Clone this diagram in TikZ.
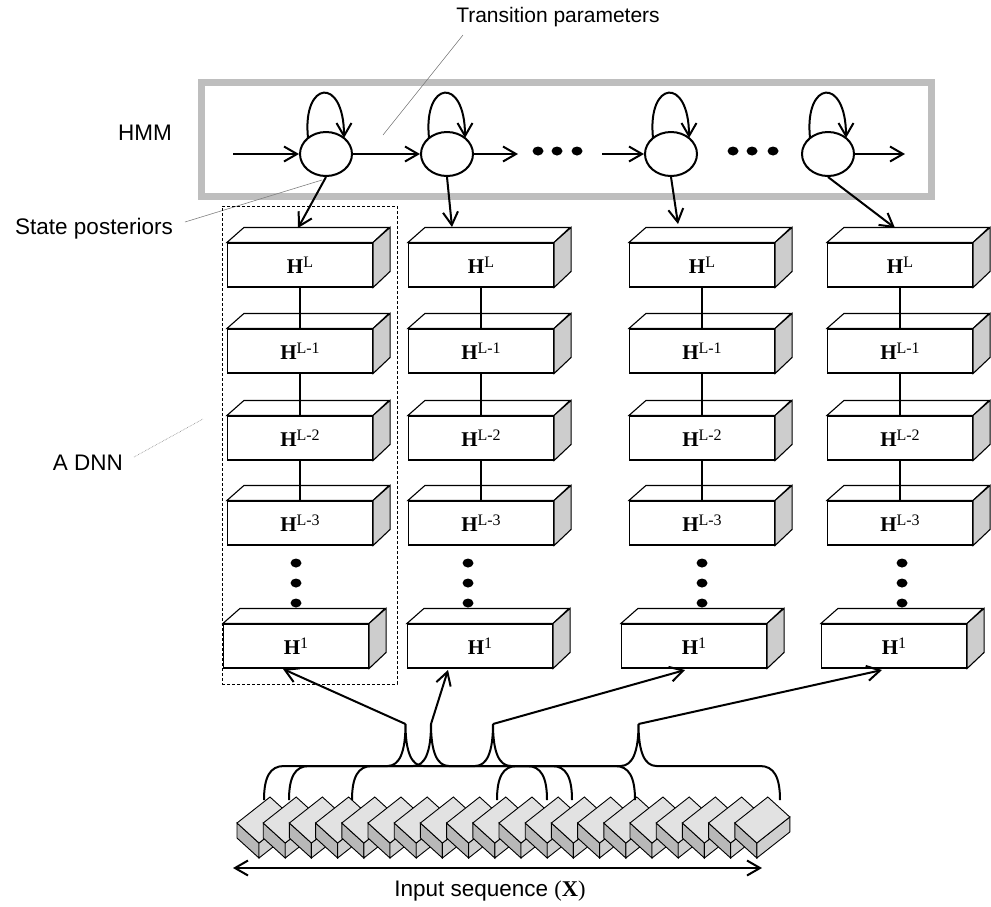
\documentclass[tikz,border=0pt]{standalone}
\usepackage{fontspec}
\setmainfont{Liberation Serif}
\setsansfont{Liberation Sans}
\usetikzlibrary{arrows.meta,shapes.geometric,calc}
\definecolor{framegray}{HTML}{BEBEBE}
\definecolor{sidegray}{HTML}{CDCDCD}
\definecolor{topgray}{HTML}{E2E2E2}
\definecolor{leftgray}{HTML}{B8B8B8}
\definecolor{rightgray}{HTML}{CFCFCF}
\newcommand\Hlab[1]{\textbf{H}\raisebox{6pt}{\fontsize{16}{16}\selectfont #1}}
\newcommand\cub[1]{%
  \draw[edge, fill=white] (#1.north west) -- ++(17,-15) -- ++(145,0) -- (#1.north east) -- cycle;
  \draw[edge, fill=sidegray] (#1.north east) -- ++(17,-15) -- ++(0,44) -- (#1.south east) -- cycle;}
\newcommand\brc[3]{%
  \draw[brace] (#1,800) .. controls (#1,777) and (#1+6,766) .. (#1+20,766) -- (#2-18,766)
    .. controls (#2-6,766) and (#2,752) .. (#2,724)
    .. controls (#2,752) and (#2+6,766) .. (#2+18,766) -- (#3-20,766)
    .. controls (#3-6,766) and (#3,777) .. (#3,800);}
\begin{document}
\begin{tikzpicture}[x=1pt,y=-1pt,
  arr/.style={line width=2pt,-{Straight Barb[length=13pt,width=15pt]}},
  darr/.style={line width=2pt,{Straight Barb[length=13pt,width=15pt]}-{Straight Barb[length=13pt,width=15pt]}},
  link/.style={line width=2pt},
  brace/.style={line width=2pt},
  edge/.style={line width=1.1pt, line join=miter},
  layer/.style={draw, line width=1.1pt, fill=white, minimum width=145pt, minimum height=44pt, inner sep=0pt, font=\fontsize{21}{24}\selectfont},
  hstate/.style={ellipse, draw, line width=2pt, fill=white, minimum width=52pt, minimum height=44pt, inner sep=0pt},
  blob/.style={ellipse, fill=black, inner sep=0pt, minimum width=11pt, minimum height=9pt},
  leader/.style={line width=0.6pt, draw=gray},
  lab/.style={font=\sffamily\fontsize{22.5}{26}\selectfont, inner sep=0pt}
]
\useasboundingbox (0,0) rectangle (991,906);

% labels
\node[lab, font=\sffamily\fontsize{21}{25}\selectfont] (ttp) at (558,17) {Transition parameters};
\node[lab] (thmm) at (145,133) {HMM};
\node[lab] (tsp) at (94,229) {State posteriors};
\node[lab] (tdnn) at (88,463) {A DNN};
\node[lab] (tin) at (490,891) {Input sequence {\rmfamily(\textbf{X})}};

% HMM frame
\node[draw=framegray, line width=7pt, minimum width=730pt, minimum height=114pt, inner sep=0pt] (hmm) at (566.5,139.5) {};

% leaders
\coordinate (lt1) at (463,35); \coordinate (lt2) at (383,135);
\draw[leader] (lt1) -- (lt2);
\coordinate (ls1) at (185,222); \coordinate (ls2) at (322,180);
\draw[leader] (ls1) -- (ls2);
\coordinate (ld1) at (134,457); \coordinate (ld2) at (203,419);
\draw[leader, densely dotted] (ld1) -- (ld2);

% dashed DNN box
\node[draw, line width=0.8pt, dash pattern=on 3pt off 2pt, minimum width=175pt, minimum height=478pt, inner sep=0pt] (dnn) at (309.5,445) {};

% HMM states
\node[hstate] (s1) at (326,154) {};
\node[hstate] (s2) at (447,154) {};
\node[hstate] (s3) at (671,154) {};
\node[hstate] (s4) at (828,154) {};
\foreach \n/\x in {e1/538,e2/557,e3/577,f1/733,f2/752,f3/773}
  \node[blob] (\n) at (\x,151) {};
\coordinate (in1) at (233,154);
\coordinate (o2) at (518,154);
\coordinate (in3) at (602,154);
\coordinate (o4) at (905,154);
\draw[arr] (in1) -- (s1);
\draw[arr] (s1) -- (s2);
\draw[arr] (s2) -- (o2);
\draw[arr] (in3) -- (s3);
\draw[arr] (s4) -- (o4);
\foreach \s in {s1,s2,s3,s4}
  \draw[arr] ($(\s)+(-18,-16)$) .. controls ($(\s)+(-24,-74)$) and ($(\s)+(18,-78)$) .. ($(\s)+(18,-16)$);

% DNN columns
\foreach \c/\x/\xb/\xd in {1/300/296/296, 2/481/480/468, 3/702/694/702, 4/900/894/902} {
  \node[layer] (n\c-1) at (\x,265) {\Hlab{L}};
  \node[layer] (n\c-2) at (\x,351) {\Hlab{L-1}};
  \node[layer] (n\c-3) at (\x,438) {\Hlab{L-2}};
  \node[layer] (n\c-4) at (\x,523) {\Hlab{L-3}};
  \node[layer] (n\c-5) at (\xb,646) {\Hlab{1}};
  \foreach \r in {1,...,5} {\cub{n\c-\r}}
  \draw[link] (n\c-1) -- (n\c-2);
  \draw[link] (n\c-2) -- (n\c-3);
  \draw[link] (n\c-3) -- (n\c-4);
  \node[blob] (d\c-1) at (\xd,563) {};
  \node[blob] (d\c-2) at (\xd,583) {};
  \node[blob] (d\c-3) at (\xd,603) {};
}

% state posteriors arrows
\coordinate (t1) at (298,228);
\coordinate (t2) at (452,227);
\coordinate (t3) at (678,224);
\coordinate (t4) at (895,228);
\draw[arr] (s1.south) -- (t1);
\draw[arr] (s2.south) -- (t2);
\draw[arr] (s3.south) -- (t3);
\draw[arr] (s4.south) -- (t4);

% input blocks
\foreach \i in {0,...,19} {
  \begin{scope}[shift={(259+26.2*\i,843)}]
    \draw[line width=0.9pt, fill=leftgray, line join=miter] (-22,-20) -- (0,0) -- (0,15) -- (-22,-5) -- cycle;
    \draw[line width=0.9pt, fill=rightgray, line join=miter] (0,0) -- (33,-26) -- (33,-11) -- (0,15) -- cycle;
    \draw[line width=0.9pt, fill=topgray, line join=miter] (0,0) -- (-22,-20) -- (11,-46) -- (33,-26) -- cycle;
  \end{scope}
}

% braces
\brc{264}{405.5}{547}
\brc{289}{431}{572}
\brc{352}{493}{635}
\brc{497}{638.5}{780}
\coordinate (bA) at (405.5,724);
\coordinate (bB) at (431,724);
\coordinate (bC) at (493,724);
\coordinate (bD) at (638.5,724);
\coordinate (h1) at (283,669);
\coordinate (h2) at (448,670);
\coordinate (h3) at (685,670);
\coordinate (h4) at (882,670);
\draw[arr] (bA) -- (h1);
\draw[arr] (bB) -- (h2);
\draw[arr] (bC) -- (h3);
\draw[arr] (bD) -- (h4);

% input sequence arrow
\coordinate (xl) at (233,868);
\coordinate (xr) at (762,868);
\draw[darr] (xl) -- (xr);
\end{tikzpicture}
\end{document}
